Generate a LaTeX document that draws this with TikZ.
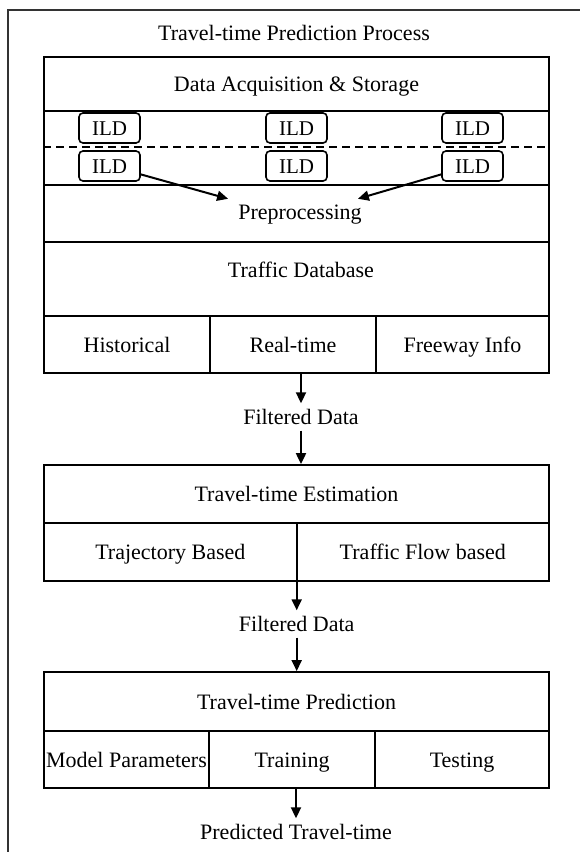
\documentclass[tikz,border=0pt]{standalone}
\usepackage{fontspec}
\setmainfont{Liberation Serif}
\usetikzlibrary{arrows.meta,calc}
\begin{document}
\begin{tikzpicture}[x=1pt,y=-1pt,
  every node/.style={font=\fontsize{22}{26}\selectfont, text height=15pt, text depth=0pt, inner sep=0pt},
  cellbox/.style={draw, line width=1.8pt},
  ild/.style={draw, line width=1.6pt, rounded corners=4pt, minimum width=61pt, minimum height=30pt, font=\fontsize{21}{25}\selectfont, text height=14pt},
  arr/.style={line width=2pt, -{Triangle[width=10pt,length=11pt]}},
  dashline/.style={line width=1.5pt, dash pattern=on 8pt off 5pt},
  frameline/.style={line width=2pt, black!80}]
\useasboundingbox (0,0) rectangle (579,852);
\draw[frameline] (600,10) -- (8,10) -- (8,880);
\node (title) at (294,33) {Travel-time Prediction Process};
% box 1
\node[cellbox, minimum width=505pt, minimum height=54pt] (daq) at (296.5,84) {Data Acquisition \& Storage};
\node[cellbox, minimum width=505pt, minimum height=74pt] (band) at (296.5,148) {};
\node[ild] (i1) at (109.5,128) {ILD};
\node[ild] (i2) at (296.5,128) {ILD};
\node[ild] (i3) at (472.5,128) {ILD};
\node[ild] (i4) at (109.5,166) {ILD};
\node[ild] (i5) at (296.5,166) {ILD};
\node[ild] (i6) at (472.5,166) {ILD};
\draw[dashline] ([yshift=1pt]band.west) -- ([yshift=1pt]band.east);
\node[cellbox, minimum width=505pt, minimum height=57pt] (prerow) at (296.5,213.5) {};
\node[inner ysep=5.5pt] (pre) at (300,212) {Preprocessing};
\node[cellbox, minimum width=505pt, minimum height=74pt] (dbrow) at (296.5,279) {};
\node (db) at (301,270) {Traffic Database};
\node[cellbox, minimum width=166pt, minimum height=57pt] (hist) at (127,344.5) {Historical};
\node[cellbox, minimum width=166pt, minimum height=57pt] (rt) at (293,344.5) {Real-time};
\node[cellbox, minimum width=173pt, minimum height=57pt] (fw) at (462.5,344.5) {Freeway Info};
% between
\node[inner ysep=6pt] (fd1) at (301,417) {Filtered Data};
% box 2
\node[cellbox, minimum width=505pt, minimum height=58pt] (est) at (296.5,494) {Travel-time Estimation};
\node[cellbox, minimum width=252.7pt, minimum height=58pt] (traj) at (170.35,552) {Trajectory Based};
\node[cellbox, minimum width=252.3pt, minimum height=58pt] (flow) at (422.85,552) {Traffic Flow based};
\node[inner ysep=6pt] (fd2) at (296.7,624) {Filtered Data};
% box 3
\node[cellbox, minimum width=505pt, minimum height=59pt] (pred) at (296.5,701.5) {Travel-time Prediction};
\node[cellbox, minimum width=165pt, minimum height=57pt] (mp) at (126.5,759.5) {Model Parameters};
\node[cellbox, minimum width=166pt, minimum height=57pt] (train) at (292,759.5) {Training};
\node[cellbox, minimum width=174pt, minimum height=57pt] (test) at (462,759.5) {Testing};
\node[inner ysep=6pt] (ptt) at (296,832) {Predicted Travel-time};
% arrows
\draw[arr] (i4.-15) -- ([xshift=-10pt]pre.north west);
\draw[arr] (i6.195) -- ([xshift=-4pt]pre.north east);
\draw[arr] (fd1 |- rt.south) -- (fd1.north);
\draw[arr] (fd1.south) -- (fd1 |- est.north);
\draw[arr] (fd2 |- traj.south) -- (fd2.north);
\draw[arr] (fd2.south) -- (fd2 |- pred.north);
\draw[arr] (ptt |- train.south) -- (ptt.north);
\end{tikzpicture}
\end{document}
